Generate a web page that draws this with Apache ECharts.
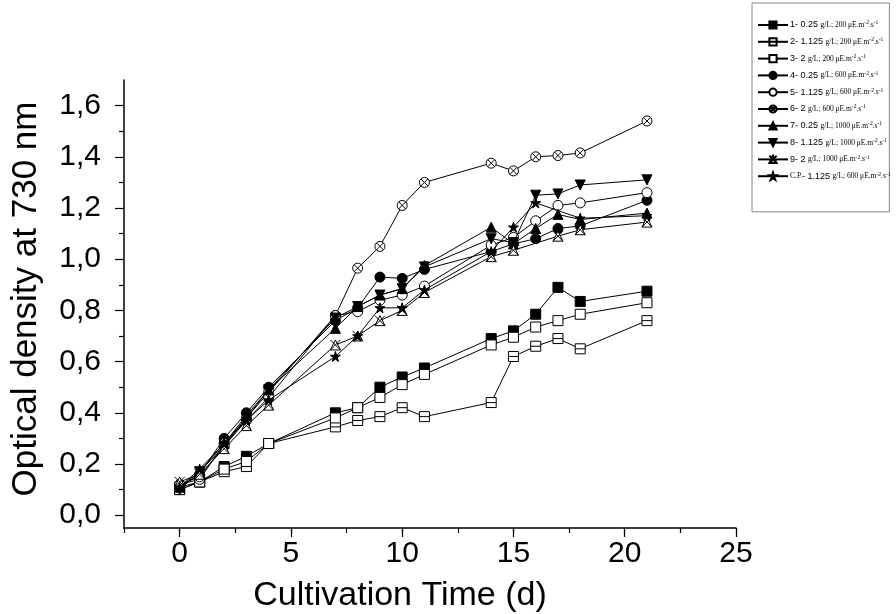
<!DOCTYPE html>
<html>
<head>
<meta charset="utf-8">
<script src="https://cdn.jsdelivr.net/npm/echarts@6/dist/echarts.min.js"></script>
<style>html,body{margin:0;padding:0;background:#fff;}#c{width:896px;height:614px;}</style>
</head>
<body>
<div id="c"></div>
<script>
// ---- data ----
const days = [0, 0.9, 2, 3, 4, 7, 8, 9, 10, 11, 14, 15, 16, 17, 18, 21];
const s1 = [0.10, 0.13, 0.19, 0.23, 0.28, 0.40, 0.42, 0.50, 0.54, 0.575, 0.69, 0.72, 0.785, 0.89, 0.835, 0.875];
const s2 = [0.10, 0.13, 0.17, 0.19, 0.28, 0.345, 0.37, 0.385, 0.42, 0.385, 0.44, 0.62, 0.66, 0.69, 0.65, 0.76];
const s3 = [0.11, 0.13, 0.18, 0.21, 0.28, 0.38, 0.42, 0.46, 0.51, 0.55, 0.665, 0.695, 0.735, 0.76, 0.785, 0.83];
const s4 = [0.11, 0.16, 0.30, 0.40, 0.50, 0.76, 0.81, 0.93, 0.925, 0.96, 1.03, 1.06, 1.08, 1.12, 1.13, 1.23];
const s5 = [0.12, 0.14, 0.28, 0.38, 0.48, 0.78, 0.795, 0.84, 0.86, 0.895, 1.055, 1.085, 1.15, 1.21, 1.22, 1.26];
const s6 = [0.12, 0.15, 0.27, 0.37, 0.46, 0.78, 0.965, 1.05, 1.21, 1.30, 1.375, 1.345, 1.40, 1.405, 1.415, 1.54];
const s7 = [0.11, 0.17, 0.28, 0.39, 0.49, 0.73, 0.815, 0.86, 0.885, 0.975, 1.125, 1.06, 1.12, 1.175, 1.155, 1.18];
const s8 = [0.10, 0.17, 0.27, 0.38, 0.49, 0.77, 0.815, 0.86, 0.885, 0.97, 1.08, 1.065, 1.25, 1.255, 1.29, 1.31];
const s9 = [0.13, 0.16, 0.26, 0.35, 0.43, 0.665, 0.70, 0.76, 0.80, 0.87, 1.01, 1.035, null, 1.09, 1.115, 1.145];
const sCP = [0.11, 0.18, 0.28, 0.37, 0.45, 0.62, 0.70, 0.81, 0.81, 0.88, 1.03, 1.125, 1.22, null, 1.16, 1.17];

const prefixes = ['1- 0.25', '2- 1.125', '3- 2', '4- 0.25', '5- 1.125', '6- 2', '7- 0.25', '8- 1.125', '9- 2', '- 1.125'];
const prefixSerif = ['', '', '', '', '', '', '', '', '', 'C.P.'];
const intensities = ['200', '200', '200', '600', '600', '600', '1000', '1000', '1000', '600'];
const xTickLabels = [0, 5, 10, 15, 20, 25];
const yTickLabels = [0, 0.2, 0.4, 0.6, 0.8, 1.0, 1.2, 1.4, 1.6];

// ---- styles ----
const values = [s1, s2, s3, s4, s5, s6, s7, s8, s9, sCP];
const symbols = [
  {symbol: 'rect', fill: '#000'},
  {symbol: 'path://M0,0L10,0L10,10L0,10ZM0,5L10,5', fill: '#fff'},
  {symbol: 'rect', fill: '#fff'},
  {symbol: 'circle', fill: '#000'},
  {symbol: 'circle', fill: '#fff'},
  {symbol: 'path://M5,0A5,5,0,1,1,4.99,0ZM1.5,1.5L8.5,8.5M8.5,1.5L1.5,8.5', fill: '#fff'},
  {symbol: 'triangle', fill: '#000'},
  {symbol: 'triangle', fill: '#000', rotate: 180},
  {symbol: 'path://M5,0L10,10L0,10ZM0,0L10,10M10,0L0,10', fill: '#fff'},
  {symbol: 'path://M5,0L6.2,3.6L10,3.6L6.9,5.9L8.1,9.5L5,7.3L1.9,9.5L3.1,5.9L0,3.6L3.8,3.6Z', fill: '#000'}
];

const names = prefixes.map((p, i) => prefixSerif[i] + p + ' g/L; ' + intensities[i] + ' \u03bcE.m-2.s-1');

const series = values.map((vals, i) => ({
  name: names[i],
  type: 'line',
  data: days.map((d, j) => [d, vals[j]]).filter(p => p[1] !== null),
  symbol: symbols[i].symbol,
  symbolRotate: symbols[i].rotate || 0,
  symbolSize: 10,
  showSymbol: true,
  lineStyle: {color: '#000', width: 1},
  itemStyle: {color: symbols[i].fill, borderColor: '#000', borderWidth: 1},
  emphasis: {disabled: true},
  z: 2 + i
}));

const serifFont = '"Liberation Serif", "Times New Roman", serif';
const sansFont = '"Liberation Sans", Arial, sans-serif';

const chart = echarts.init(document.getElementById('c'), null, {renderer: 'canvas'});
chart.setOption({
  animation: false,
  backgroundColor: '#fff',
  grid: {left: 124, right: 160, top: 80, bottom: 86, containLabel: false, outerBoundsMode: 'none'},
  legend: {
    orient: 'vertical',
    left: 752,
    top: 3,
    padding: [17, -1, 31, 5],
    itemGap: 7.2,
    itemWidth: 30,
    itemHeight: 9,
    backgroundColor: '#fff',
    borderColor: '#888',
    borderWidth: 1,
    borderRadius: 0,
    selectedMode: false,
    data: names,
    formatter: function (name) {
      const i = names.indexOf(name);
      let s = '';
      if (prefixSerif[i]) s += '{t|' + prefixSerif[i] + '}';
      s += '{s|' + prefixes[i] + ' }{t|g/L; ' + intensities[i] + ' \u03bcE.m}{sup|-2}{t|.s}{sup|-1}';
      return s;
    },
    textStyle: {
      color: '#000',
      fontSize: 9,
      padding: [0, 0, 0, -3],
      rich: {
        s: {fontFamily: sansFont, fontSize: 9, color: '#000', lineHeight: 10},
        t: {fontFamily: serifFont, fontSize: 7.5, color: '#000', lineHeight: 10},
        sup: {fontFamily: serifFont, fontSize: 5.5, color: '#000', verticalAlign: 'top', lineHeight: 10}
      }
    }
  },
  xAxis: [{
    type: 'value',
    min: -2.5,
    max: 25,
    position: 'bottom',
    name: 'Cultivation Time (d)',
    nameLocation: 'middle',
    nameGap: 51,
    nameTextStyle: {fontFamily: sansFont, fontSize: 34, color: '#000', padding: [0, 60, 0, 0]},
    axisLine: {onZero: false, lineStyle: {color: '#000', width: 1.5}},
    axisTick: {show: true, inside: false, length: 9, customValues: xTickLabels, lineStyle: {color: '#000', width: 1.2}},
    axisLabel: {customValues: xTickLabels, fontFamily: sansFont, fontSize: 30, color: '#000', margin: 11,
      formatter: v => String(v)},
    splitLine: {show: false}
  }, {
    type: 'value',
    min: -2.5,
    max: 25,
    interval: 2.5,
    position: 'bottom',
    axisLine: {show: false, onZero: false},
    axisTick: {show: true, inside: false, length: 5, lineStyle: {color: '#000', width: 1.2}},
    axisLabel: {show: false},
    splitLine: {show: false}
  }],
  yAxis: [{
    type: 'value',
    min: -0.05,
    max: 1.7,
    position: 'left',
    name: 'Optical density at 730 nm',
    nameLocation: 'middle',
    nameGap: 80,
    nameTextStyle: {fontFamily: sansFont, fontSize: 35, color: '#000', padding: [0, 0, 0, 10]},
    axisLine: {show: true, onZero: false, lineStyle: {color: '#000', width: 1.5}},
    axisTick: {show: true, inside: false, length: 9, customValues: yTickLabels, lineStyle: {color: '#000', width: 1.2}},
    axisLabel: {customValues: yTickLabels, fontFamily: sansFont, fontSize: 30, color: '#000', margin: 23,
      formatter: v => v.toFixed(1).replace('.', ',')},
    splitLine: {show: false}
  }, {
    type: 'value',
    min: -0.05,
    max: 1.7,
    position: 'left',
    axisLine: {show: false, onZero: false},
    axisTick: {show: true, inside: false, length: 5, customValues: [0.1, 0.3, 0.5, 0.7, 0.9, 1.1, 1.3, 1.5], lineStyle: {color: '#000', width: 1.2}},
    axisLabel: {show: false},
    splitLine: {show: false}
  }],
  series: series
});
</script>
</body>
</html>
